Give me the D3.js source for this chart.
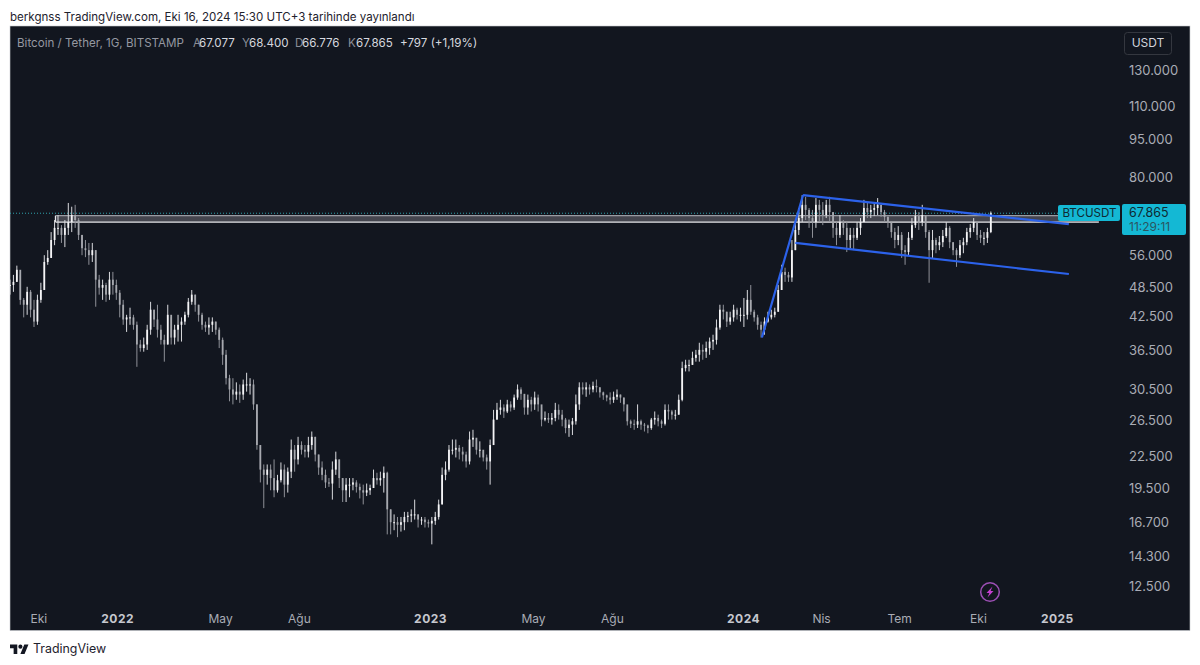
<!DOCTYPE html>
<html lang="tr">
<head>
<meta charset="utf-8">
<title>BTCUSDT</title>
<script src="https://cdn.jsdelivr.net/npm/d3@7/dist/d3.min.js"></script>
<style>
  html, body { margin: 0; padding: 0; background: #fff; }
  svg { display: block; font-family: Inter, "Noto Sans", sans-serif; }
</style>
</head>
<body>
<div id="chart"></div>
<script>
// Four-day bars in thousands of USDT, starting 2021-08-29.
const barStart = "2021-08-29";
const barStepDays = 4;
const highs = [
50.2,51.3,53.5,51.3,46.2,48.6,47.9,45.8,46.9,49.5,
56.1,57.4,62.3,65.8,67.3,64.3,65.8,71.1,69.9,70.5,
66.4,61.5,60.1,59.3,59.3,57.4,51.3,50.2,49.5,52.0,
52.0,50.2,47.9,45.8,42.8,44.2,42.8,41.5,38.2,38.6,
40.9,45.4,43.8,44.8,40.9,39.1,44.8,42.3,40.9,42.8,
42.3,43.4,46.2,47.9,46.9,44.8,43.2,41.5,42.3,42.3,
41.5,40.4,38.6,36.5,32.6,32.1,31.5,31.2,31.9,32.9,
32.1,31.9,28.5,23.7,21.7,21.7,21.7,22.2,20.7,21.9,
21.7,21.4,24.3,23.7,24.6,24.1,23.7,24.6,25.2,24.6,
22.7,22.0,21.2,20.4,22.0,23.0,22.2,20.4,20.4,20.4,
20.4,20.2,19.9,19.8,19.9,19.8,21.2,20.9,21.0,21.5,
21.0,17.7,17.3,17.1,17.1,17.5,17.5,17.7,18.5,17.3,
17.1,17.1,16.9,17.1,17.5,18.5,21.4,22.0,23.7,24.3,
24.3,23.7,23.5,23.0,25.2,25.4,24.3,24.1,23.0,22.7,
24.3,27.8,28.7,29.1,28.5,29.1,28.9,29.8,31.2,30.8,
29.8,29.8,29.5,30.2,29.8,28.1,27.6,27.4,27.4,28.7,
28.5,27.8,26.8,26.6,26.8,29.8,31.5,31.5,31.5,31.2,
31.6,31.9,30.8,30.2,29.8,30.1,30.2,30.5,29.8,29.4,
28.1,26.6,26.6,28.5,26.6,26.2,26.0,26.8,27.6,27.2,
26.6,28.5,28.5,27.8,27.8,29.8,34.6,34.9,34.9,36.2,
36.5,37.7,37.4,37.9,38.6,39.1,41.9,44.8,44.8,43.4,
43.4,44.8,44.2,44.2,46.2,47.9,49.0,43.8,42.8,41.5,
42.3,43.4,43.8,44.2,49.0,53.7,53.0,52.0,60.1,65.2,
69.5,73.7,73.1,69.5,68.9,72.7,72.1,71.4,72.1,73.1,
68.2,65.2,67.3,65.8,65.2,63.5,63.5,65.2,66.4,72.1,
71.1,70.5,71.4,72.7,70.5,68.9,67.0,65.2,63.5,64.0,
62.3,58.7,62.3,66.4,68.9,68.2,70.5,67.3,62.9,62.9,
60.7,61.2,62.9,65.2,64.0,59.5,57.9,60.1,60.7,63.5,
64.6,66.4,65.2,62.9,62.3,63.5,68.4
];
const lows = [
46.9,47.5,49.7,44.8,42.3,42.8,42.3,40.5,40.9,45.2,
47.9,53.7,55.4,58.7,61.5,59.3,58.2,61.5,62.3,63.5,
60.1,56.1,55.6,53.7,54.4,44.4,46.9,45.8,45.4,45.8,
46.9,45.8,42.3,40.9,39.6,40.9,40.0,33.8,36.2,36.2,
36.5,39.1,40.5,38.6,37.4,34.6,37.4,37.4,37.4,37.9,
37.9,40.9,42.3,44.8,43.4,41.5,40.0,39.6,39.1,39.6,
39.1,36.8,34.1,31.2,28.9,28.5,29.1,28.7,29.1,30.2,
29.8,27.8,23.2,20.0,17.8,19.8,19.3,18.7,19.1,20.0,
18.7,19.1,20.4,21.0,21.7,22.7,22.4,22.4,23.2,22.0,
20.7,20.2,19.5,19.6,18.5,20.7,19.5,18.3,18.3,18.7,
19.3,19.1,18.6,18.1,18.8,18.9,19.5,19.8,19.7,19.1,
15.8,15.8,16.1,15.6,16.0,16.1,16.7,16.7,16.9,16.3,
16.5,16.3,16.3,15.1,16.5,16.9,18.1,20.2,21.0,22.7,
22.4,22.2,22.0,21.4,21.7,23.5,22.7,22.4,22.0,21.2,
19.8,23.7,26.6,27.2,26.8,27.4,27.6,27.8,29.1,29.1,
27.2,27.2,27.6,27.8,27.6,25.8,26.4,26.2,26.0,26.4,
26.6,25.8,25.0,24.6,24.8,26.0,27.8,29.8,29.5,29.8,
30.1,30.1,29.4,29.1,28.9,28.5,28.7,29.1,28.7,27.6,
25.9,25.6,25.4,25.6,25.4,25.2,25.0,25.4,26.0,25.8,
25.6,25.9,26.6,26.6,26.6,27.2,28.9,33.1,33.1,34.1,
34.6,34.6,34.9,35.2,35.7,36.5,37.4,40.0,41.9,40.5,
40.9,41.5,41.9,41.5,40.5,41.9,42.8,41.5,40.0,38.6,
39.1,41.3,41.9,42.3,43.4,47.9,49.7,49.7,49.7,57.4,
61.5,65.2,65.8,63.5,60.7,63.5,65.2,64.3,66.4,65.2,
60.7,58.7,60.7,61.5,56.9,57.9,57.4,60.1,61.5,65.2,
66.4,66.4,67.0,67.3,66.7,65.2,63.5,60.7,57.9,58.7,
55.4,53.7,56.1,60.1,63.5,62.9,64.0,60.7,49.5,55.4,
56.6,57.4,58.2,60.7,57.9,56.1,53.2,55.4,56.6,58.7,
60.7,62.3,60.1,59.3,58.7,59.3,62.0
];
const closes = [
49.0,49.7,52.5,45.8,44.8,47.5,43.8,41.5,45.8,47.9,
54.4,55.4,60.1,63.5,63.5,61.5,63.5,65.2,67.3,65.8,
61.5,57.9,57.4,56.1,57.4,50.2,48.4,49.0,46.9,50.2,
49.0,47.3,44.8,41.9,42.3,42.3,40.9,37.4,36.8,37.4,
40.0,43.8,41.9,40.0,38.2,37.4,42.8,38.6,40.0,40.9,
41.5,42.8,45.4,46.9,44.8,42.8,40.9,40.4,40.9,41.5,
40.0,38.2,35.7,32.1,30.5,29.8,30.2,29.8,31.2,31.2,
31.2,28.5,23.7,21.2,20.7,21.2,20.4,19.3,20.2,21.2,
19.8,21.0,23.2,22.2,23.7,23.2,23.0,23.7,24.6,22.7,
21.4,20.7,20.0,19.9,21.2,22.2,20.4,19.3,19.8,19.8,
20.0,19.6,19.3,19.1,19.3,19.5,20.4,20.2,20.4,20.9,
17.7,16.7,16.7,16.5,16.7,17.1,17.2,17.3,17.3,16.9,
16.9,16.7,16.6,16.8,17.1,18.1,20.7,21.2,23.2,23.2,
23.4,23.0,22.7,22.0,24.3,24.5,23.2,23.2,22.4,22.0,
23.7,26.6,27.8,28.1,27.6,28.5,28.1,29.4,30.5,29.9,
28.1,29.1,28.5,29.4,28.5,26.6,26.8,26.6,26.8,27.8,
27.2,26.6,25.6,26.0,26.4,28.5,30.8,30.5,30.8,30.5,
31.0,30.8,30.1,29.7,29.4,29.1,29.5,29.8,29.4,28.5,
26.4,26.1,26.0,26.4,26.0,25.9,25.6,26.6,26.8,26.4,
26.1,27.8,27.6,27.2,27.2,29.1,33.6,34.1,34.1,35.2,
35.7,36.5,36.2,36.8,37.9,38.2,40.4,43.8,43.4,41.5,
42.3,43.8,42.8,42.8,42.8,45.8,43.4,42.3,40.9,40.0,
41.5,42.3,42.8,43.4,47.9,52.0,51.3,50.7,57.4,62.9,
66.4,70.5,68.9,66.4,65.2,70.5,68.9,67.3,70.5,68.2,
63.5,61.5,65.2,63.5,60.1,61.5,60.7,63.5,65.2,69.5,
68.2,68.9,69.5,70.5,68.2,66.7,65.2,62.3,60.1,61.5,
57.4,56.9,60.7,64.3,67.0,65.2,67.3,62.3,57.4,60.1,
58.7,59.5,61.2,63.5,59.5,57.4,56.1,58.7,59.5,62.3,
63.5,65.2,61.5,60.7,60.7,62.3,67.865
];

// Price axis labels.
const priceTicks = [130000,110000,95000,80000,56000,48500,42500,36500,30500,26500,22500,19500,16700,14300,12500];

// Time axis labels.
const timeTickDates = ["2021-10-01","2022-01-01","2022-05-01","2022-08-01","2023-01-01","2023-05-01","2023-08-01","2024-01-01","2024-04-01","2024-07-01","2024-10-01","2025-01-01"];
const timeTickLabels = ["Eki","2022","May","Ağu","2023","May","Ağu","2024","Nis","Tem","Eki","2025"];

// Drawn channel lines, as [date, price] pairs.
const impulseLine = [["2024-01-23",38600],["2024-03-11",73700]];
const channelUpper = [["2024-03-11",73700],["2025-01-15",64600]];
const channelLower = [["2024-03-02",59300],["2025-01-15",51500]];

// Resistance zone: date span and price span.
const zoneDates = ["2021-10-21","2025-02-19"];
const zonePrices = [65200,67100];

const lastPrice = 67865;
const headerText = "berkgnss TradingView.com, Eki 16, 2024 15:30 UTC+3 tarihinde yayınlandı";
const legendParts = [
  ["Bitcoin / Tether, 1G, BITSTAMP", "#9598a1", 17],
  ["A", "#8b8e97", 193], ["67.077", "#d6d8df", 199],
  ["Y", "#8b8e97", 242], ["68.400", "#d6d8df", 249],
  ["D", "#8b8e97", 295], ["66.776", "#d6d8df", 302],
  ["K", "#8b8e97", 348], ["67.865", "#d6d8df", 356],
  ["+797 (+1,19%)", "#d6d8df", 400]
];

const parseDay = d3.utcParse("%Y-%m-%d");
const W = 1200, H = 665;
const panel = { x: 10, y: 26, w: 1180, h: 604.5 };

const svg = d3.select("#chart").append("svg").attr("width", W).attr("height", H);

svg.append("text").attr("x", 10).attr("y", 21).attr("font-size", 11.55).attr("fill", "#1e222d").text(headerText);
svg.append("rect").attr("x", panel.x).attr("y", panel.y).attr("width", panel.w).attr("height", panel.h)
  .attr("fill", "#12161f").attr("stroke", "#c9cbd1").attr("stroke-width", 0.6);

svg.append("defs").append("clipPath").attr("id", "plot").append("rect")
  .attr("x", panel.x).attr("y", panel.y).attr("width", panel.w).attr("height", panel.h);

const x = d3.scaleUtc().domain([parseDay("2021-08-29"), parseDay("2025-03-11")]).range([10, 1116]);
const y = d3.scaleLog().domain([12500, 130000]).range([586, 70]);

const bars = closes.map((c, i) => ({
  date: d3.utcDay.offset(parseDay(barStart), i * barStepDays),
  open: (i ? closes[i - 1] : c) * 1000,
  close: c === 67.865 ? lastPrice : c * 1000,
  high: highs[i] * 1000,
  low: lows[i] * 1000
}));

const plot = svg.append("g").attr("clip-path", "url(#plot)");

// Live price line, dotted across the plot.
plot.append("line")
  .attr("x1", panel.x).attr("x2", 1058)
  .attr("y1", y(lastPrice)).attr("y2", y(lastPrice))
  .attr("stroke", "#2fa3ad").attr("stroke-width", 1).attr("stroke-dasharray", "1 2");

// Resistance zone.
plot.append("rect")
  .attr("x", x(parseDay(zoneDates[0])))
  .attr("width", x(parseDay(zoneDates[1])) - x(parseDay(zoneDates[0])))
  .attr("y", y(zonePrices[1]))
  .attr("height", y(zonePrices[0]) - y(zonePrices[1]))
  .attr("fill", "#44454e");
plot.append("line")
  .attr("x1", x(parseDay(zoneDates[0]))).attr("x2", x(parseDay(zoneDates[1])))
  .attr("y1", y(zonePrices[1])).attr("y2", y(zonePrices[1]))
  .attr("stroke", "#9a9ca3").attr("stroke-width", 1.3);
plot.append("line")
  .attr("x1", x(parseDay(zoneDates[0]))).attr("x2", x(parseDay(zoneDates[1])))
  .attr("y1", y(zonePrices[0])).attr("y2", y(zonePrices[0]))
  .attr("stroke", "#e4e5e8").attr("stroke-width", 1.3);
plot.append("line")
  .attr("x1", x(parseDay(zoneDates[0]))).attr("x2", x(parseDay(zoneDates[0])))
  .attr("y1", y(zonePrices[1])).attr("y2", y(zonePrices[0]))
  .attr("stroke", "#e4e5e8").attr("stroke-width", 1.2);

// Candles: thin wick plus a narrow body, pale when rising and grey when falling.
const candle = plot.append("g").selectAll("g").data(bars).join("g");
candle.append("line")
  .attr("x1", d => x(d.date)).attr("x2", d => x(d.date))
  .attr("y1", d => y(d.high)).attr("y2", d => y(d.low))
  .attr("stroke", d => d.close >= d.open ? "#d9dade" : "#8f9198")
  .attr("stroke-width", 1);
candle.append("rect")
  .attr("x", d => x(d.date) - 0.9)
  .attr("width", 1.8)
  .attr("y", d => y(Math.max(d.open, d.close)))
  .attr("height", d => Math.max(1, Math.abs(y(d.open) - y(d.close))))
  .attr("fill", d => d.close >= d.open ? "#f4f4f6" : "#a7a9af");

// Channel lines.
const trend = d3.line().x(d => x(parseDay(d[0]))).y(d => y(d[1]));
plot.selectAll("path.trend").data([impulseLine, channelUpper, channelLower]).join("path")
  .attr("class", "trend").attr("d", trend)
  .attr("fill", "none").attr("stroke", "#2c62ea").attr("stroke-width", 2.2);

// Price axis.
const trLocale = d3.formatLocale({ decimal: ",", thousands: ".", grouping: [3], currency: ["", ""] });
const yAxis = svg.append("g").attr("transform", "translate(1129,0)")
  .call(d3.axisRight(y).tickValues(priceTicks).tickSize(0).tickPadding(0).tickFormat(trLocale.format(",d")));
yAxis.select(".domain").remove();
yAxis.selectAll("text").attr("font-size", 13).attr("fill", "#a9acb5").attr("font-family", "Inter, sans-serif");

// Time axis.
const xAxis = svg.append("g").attr("transform", "translate(0,614)")
  .call(d3.axisBottom(x).tickValues(timeTickDates.map(parseDay)).tickSize(0).tickPadding(0)
    .tickFormat((d, i) => timeTickLabels[i]));
xAxis.select(".domain").remove();
xAxis.selectAll("text")
  .attr("font-family", "Inter, sans-serif")
  .attr("font-size", 12)
  .attr("font-weight", (d, i) => /^\d+$/.test(timeTickLabels[i]) ? 700 : 400)
  .attr("letter-spacing", (d, i) => /^\d+$/.test(timeTickLabels[i]) ? 0.5 : 0)
  .attr("fill", (d, i) => /^\d+$/.test(timeTickLabels[i]) ? "#c6c8cf" : "#a9acb5");

// Instrument legend.
svg.append("g").selectAll("text").data(legendParts).join("text")
  .attr("x", d => d[2]).attr("y", 47).attr("font-size", 11.6)
  .attr("fill", d => d[1]).text(d => d[0]);

// Currency button.
svg.append("rect").attr("x", 1124.5).attr("y", 32.5).attr("width", 47).attr("height", 22).attr("rx", 3)
  .attr("fill", "none").attr("stroke", "#34373f");
svg.append("text").attr("x", 1148).attr("y", 47).attr("text-anchor", "middle")
  .attr("font-size", 12).attr("fill", "#d1d4dc").text("USDT");

// Symbol and last price tags.
svg.append("rect").attr("x", 1058).attr("y", 205).attr("width", 62).attr("height", 16).attr("rx", 2).attr("fill", "#14b8d4");
svg.append("text").attr("x", 1089.5).attr("y", 217).attr("text-anchor", "middle").attr("font-size", 11.6).attr("fill", "#0f2a33").text("BTCUSDT");
svg.append("rect").attr("x", 1122).attr("y", 204).attr("width", 64).attr("height", 31).attr("rx", 2).attr("fill", "#14b8d4");
svg.append("text").attr("x", 1129).attr("y", 217).attr("font-size", 12.5).attr("fill", "#0f2a33").text(trLocale.format(",d")(lastPrice));
svg.append("text").attr("x", 1129).attr("y", 231).attr("font-size", 12).attr("fill", "#2b5560").text("11:29:11");

// Lightning badge near the time axis.
svg.append("circle").attr("cx", 990).attr("cy", 592).attr("r", 9.3)
  .attr("fill", "none").attr("stroke", "#9c4fb4").attr("stroke-width", 1.5);
svg.append("path").attr("transform", "translate(990,592)")
  .attr("d", "M2.5,-5.5 L-3.5,1 L-0.6,1 L-2.5,5.5 L3.5,-1 L0.6,-1 Z").attr("fill", "#c63fd0");

// Brand mark and name.
svg.append("g").attr("transform", "translate(10,642.5) scale(0.52)").call(g => {
  g.append("path").attr("d", "M14 22H7V11H0V4h14v18zM28 22h-8l7.5-18h8L28 22z").attr("fill", "#131722");
  g.append("circle").attr("cx", 20).attr("cy", 8).attr("r", 4).attr("fill", "#131722");
});
svg.append("text").attr("x", 33).attr("y", 652.5).attr("font-size", 12.4).attr("fill", "#1e222d").text("TradingView");
</script>
</body>
</html>
